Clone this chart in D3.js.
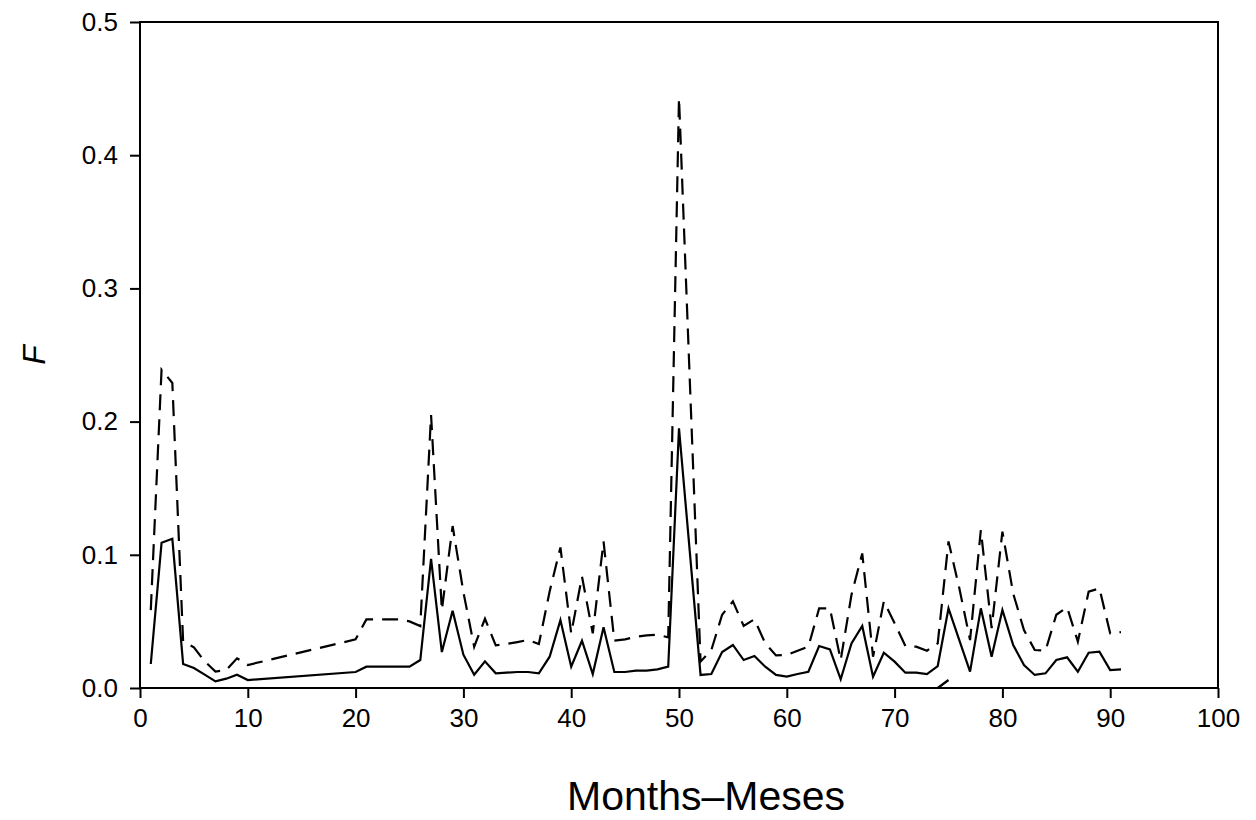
<!DOCTYPE html>
<html>
<head>
<meta charset="utf-8">
<script src="https://cdn.jsdelivr.net/npm/d3@7"></script>
<style>
  html, body { margin: 0; padding: 0; background: #fff; }
  svg { display: block; font-family: Arial, "Liberation Sans", sans-serif; }
</style>
</head>
<body>
<div id="chart"></div>
<script>
// months that carry a vertex (gaps 11-19 and 51 are drawn as straight runs)
const months = [1, 2, 3, 4, 5, 6, 7, 8, 9, 10, 20, 21, 22, 23, 24, 25, 26, 27, 28, 29,
    30, 31, 32, 33, 34, 35, 36, 37, 38, 39, 40, 41, 42, 43, 44, 45, 46, 47, 48, 49,
    50, 52, 53, 54, 55, 56, 57, 58, 59, 60, 61, 62, 63, 64, 65, 66, 67, 68, 69, 70,
    71, 72, 73, 74, 75, 76, 77, 78, 79, 80, 81, 82, 83, 84, 85, 86, 87, 88, 89, 90, 91];

const fSolid = [0.018, 0.109, 0.112, 0.018, 0.015, 0.010, 0.005, 0.007, 0.010, 0.006,
    0.012, 0.016, 0.016, 0.016, 0.016, 0.016, 0.021, 0.097, 0.027, 0.058,
    0.025, 0.010, 0.020, 0.011, 0.0115, 0.012, 0.012, 0.011, 0.0235, 0.051,
    0.016, 0.0355, 0.0105, 0.0456, 0.012, 0.012, 0.013, 0.013, 0.014, 0.016,
    0.195, 0.0098, 0.0105, 0.027, 0.0323, 0.021, 0.024, 0.016, 0.0098, 0.0085,
    0.0105, 0.0122, 0.0315, 0.029, 0.0065, 0.0335, 0.0466, 0.0085, 0.0265, 0.0198,
    0.0115, 0.0115, 0.0105, 0.0165, 0.0598, 0.036, 0.0123, 0.0598, 0.0235, 0.0586,
    0.0323, 0.0173, 0.0098, 0.011, 0.021, 0.023, 0.0122, 0.0265, 0.0273, 0.0135, 0.014];

const fDashed = [0.0585, 0.239, 0.229, 0.035, 0.0305, 0.020, 0.0123, 0.0135, 0.0223, 0.0173,
    0.0365, 0.0515, 0.0515, 0.0515, 0.0515, 0.050, 0.0465, 0.205, 0.0585, 0.1216,
    0.072, 0.031, 0.052, 0.032, 0.033, 0.0345, 0.036, 0.033, 0.0725, 0.1055,
    0.041, 0.0836, 0.041, 0.110, 0.0355, 0.0365, 0.0385, 0.0395, 0.040, 0.038,
    0.443, 0.0198, 0.0285, 0.055, 0.065, 0.0466, 0.0516, 0.0335, 0.0245, 0.0248,
    0.028, 0.031, 0.0598, 0.0598, 0.021, 0.070, 0.101, 0.0235, 0.065, 0.0486,
    0.0315, 0.031, 0.028, 0.0335, 0.110, 0.075, 0.036, 0.1186, 0.045, 0.1174,
    0.071, 0.0435, 0.0285, 0.028, 0.055, 0.0606, 0.0348, 0.0723, 0.0748, 0.041, 0.042];

// short stray stroke near the bottom axis
const strayMonths = [74, 75];
const strayValues = [0.0, 0.006];

const xTicks = [0, 10, 20, 30, 40, 50, 60, 70, 80, 90, 100];
const yTicks = [0.0, 0.1, 0.2, 0.3, 0.4, 0.5];

const width = 1256, height = 820;
const margin = { top: 22, right: 38, bottom: 132, left: 140 };

const svg = d3.select('#chart').append('svg')
    .attr('width', width)
    .attr('height', height);

const x = d3.scaleLinear().domain([0, 100]).range([margin.left, width - margin.right]);
const y = d3.scaleLinear().domain([0, 0.5]).range([height - margin.bottom, margin.top]);

// axes
const xAxis = svg.append('g')
    .attr('transform', `translate(0,${y(0)})`)
    .call(d3.axisBottom(x).tickValues(xTicks).tickSize(10).tickPadding(11).tickFormat(d3.format('d')));

const yAxis = svg.append('g')
    .attr('transform', `translate(${x(0)},0)`)
    .call(d3.axisLeft(y).tickValues(yTicks).tickSize(10).tickPadding(12).tickFormat(d3.format('.1f')));

[xAxis, yAxis].forEach(a => {
    a.select('.domain').remove();
    a.selectAll('line').attr('stroke', '#000').attr('stroke-width', 2);
    a.selectAll('text')
        .attr('fill', '#000')
        .style('font-size', '26px')
        .style('font-family', 'Arial, "Liberation Sans", sans-serif');
});

// frame
svg.append('rect')
    .attr('x', x(0))
    .attr('y', y(0.5))
    .attr('width', x(100) - x(0))
    .attr('height', y(0) - y(0.5))
    .attr('fill', 'none')
    .attr('stroke', '#000')
    .attr('stroke-width', 2);

// series
const line = d3.line()
    .x(d => x(d[0]))
    .y(d => y(d[1]));

const solidPts = months.map((m, i) => [m, fSolid[i]]);
const dashedPts = months.map((m, i) => [m, fDashed[i]]);
const strayPts = strayMonths.map((m, i) => [m, strayValues[i]]);

svg.append('path')
    .datum(dashedPts)
    .attr('d', line)
    .attr('fill', 'none')
    .attr('stroke', '#000')
    .attr('stroke-width', 2.2)
    .attr('stroke-dasharray', '16,9');

svg.append('path')
    .datum(solidPts)
    .attr('d', line)
    .attr('fill', 'none')
    .attr('stroke', '#000')
    .attr('stroke-width', 2.2);

svg.append('path')
    .datum(strayPts)
    .attr('d', line)
    .attr('fill', 'none')
    .attr('stroke', '#000')
    .attr('stroke-width', 2.2);

// axis titles
svg.append('text')
    .attr('x', 706)
    .attr('y', 810)
    .attr('text-anchor', 'middle')
    .style('font-size', '41px')
    .text('Months–Meses');

svg.append('text')
    .attr('transform', `translate(45,${(y(0) + y(0.5)) / 2}) rotate(-90)`)
    .attr('text-anchor', 'middle')
    .style('font-size', '32px')
    .style('font-style', 'italic')
    .text('F');
</script>
</body>
</html>
